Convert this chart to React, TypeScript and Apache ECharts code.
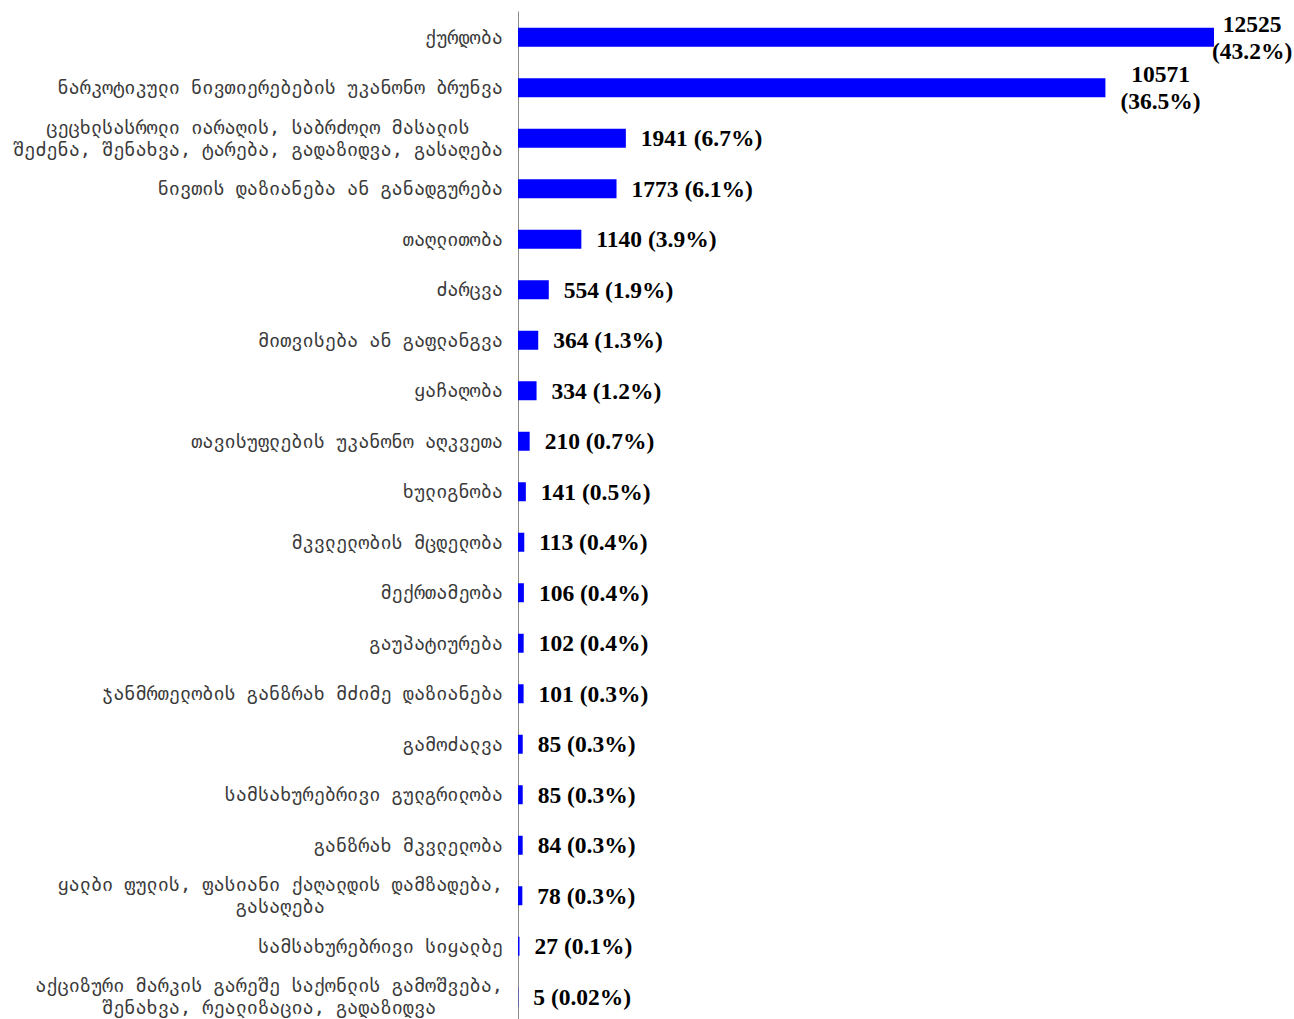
import React, { useEffect, useRef } from "react";
import * as echarts from "echarts";

const categories = [
  "ქურდობა",
  "ნარკოტიკული ნივთიერებების უკანონო ბრუნვა",
  "ცეცხლსასროლი იარაღის, საბრძოლო მასალის\nშეძენა, შენახვა, ტარება, გადაზიდვა, გასაღება",
  "ნივთის დაზიანება ან განადგურება",
  "თაღლითობა",
  "ძარცვა",
  "მითვისება ან გაფლანგვა",
  "ყაჩაღობა",
  "თავისუფლების უკანონო აღკვეთა",
  "ხულიგნობა",
  "მკვლელობის მცდელობა",
  "მექრთამეობა",
  "გაუპატიურება",
  "ჯანმრთელობის განზრახ მძიმე დაზიანება",
  "გამოძალვა",
  "სამსახურებრივი გულგრილობა",
  "განზრახ მკვლელობა",
  "ყალბი ფულის, ფასიანი ქაღალდის დამზადება,\nგასაღება",
  "სამსახურებრივი სიყალბე",
  "აქციზური მარკის გარეშე საქონლის გამოშვება,\nშენახვა, რეალიზაცია, გადაზიდვა",
];

const values = [12525, 10571, 1941, 1773, 1140, 554, 364, 334, 210, 141, 113, 106, 102, 101, 85, 85, 84, 78, 27, 5];
const percents = ["43.2%", "36.5%", "6.7%", "6.1%", "3.9%", "1.9%", "1.3%", "1.2%", "0.7%", "0.5%", "0.4%", "0.4%", "0.4%", "0.3%", "0.3%", "0.3%", "0.3%", "0.3%", "0.1%", "0.02%"];

export default function App() {
  const ref = useRef<HTMLDivElement>(null);
  useEffect(() => {
    if (!ref.current) return;
    const chart = echarts.init(ref.current, null, { renderer: "svg" });
    const labelFont = {
      fontFamily: "DejaVu Sans Mono",
      fontSize: 18.5,
      lineHeight: 22,
      color: "#3a3a3a",
    };
    chart.setOption({
      animation: false,
      backgroundColor: "#ffffff",
      grid: {
        left: 518,
        right: 80,
        top: 12,
        bottom: -3,
        containLabel: false,
        outerBoundsMode: "none",
      },
      xAxis: { type: "value", min: 0, max: 12525, show: false },
      yAxis: {
        type: "category",
        inverse: true,
        data: categories,
        axisLine: { show: true, lineStyle: { color: "#8c8c8c", width: 1 } },
        axisTick: { show: false },
        axisLabel: {
          margin: 15,
          ...labelFont,
          align: "right",
          formatter: (v: string) =>
            v.includes("\n")
              ? v
                  .split("\n")
                  .map((l) => `{m|${l}}`)
                  .join("\n")
              : v,
          rich: {
            m: { ...labelFont, align: "center" },
          },
        },
      },
      series: [
        {
          type: "bar",
          barWidth: 19,
          itemStyle: { color: "#0000ff" },
          data: values.map((v, i) => ({
            value: v,
            label: i === 0 ? { distance: -2 } : undefined,
          })),
          label: {
            show: true,
            position: "right",
            distance: 15,
            color: "#000000",
            fontFamily: "Liberation Serif",
            fontWeight: "bold",
            fontSize: 23.5,
            align: "left",
            formatter: (p: any) =>
              p.dataIndex < 2
                ? `{c|${values[p.dataIndex]}}\n{c|(${percents[p.dataIndex]})}`
                : `${values[p.dataIndex]} (${percents[p.dataIndex]})`,
            rich: {
              c: {
                align: "center",
                fontFamily: "Liberation Serif",
                fontWeight: "bold",
                fontSize: 23.5,
                lineHeight: 27,
                color: "#000000",
              },
            },
          },
        },
      ],
    });
    return () => chart.dispose();
  }, []);
  return (
    <div
      ref={ref}
      style={{ position: "absolute", left: 0, top: 0, width: 1294, height: 1019 }}
    />
  );
}
